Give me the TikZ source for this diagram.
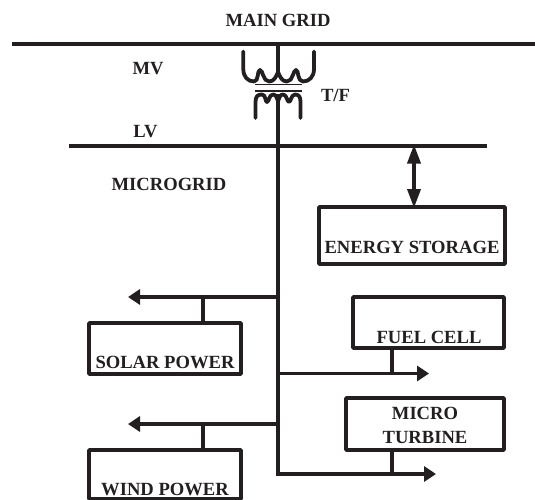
\documentclass[tikz,border=0pt]{standalone}
\usepackage{fontspec}
\setmainfont{Liberation Serif}
\usetikzlibrary{arrows.meta,positioning}
\definecolor{ink}{HTML}{231F20}
\tikzset{
  x=1pt,y=-1pt,
  bus/.style={draw=ink,line width=4pt},
  wire/.style={draw=ink,line width=3.6pt},
  flow/.style={wire,-{Triangle[length=12pt,width=15pt]}},
  both/.style={wire,{Triangle[length=19pt,width=13pt]}-{Triangle[length=19pt,width=13pt]},shorten <=-1pt,shorten >=-1pt},
  coil/.style={draw=ink,line width=3.8pt,line cap=round,line join=round},
  core/.style={draw=ink,line width=1.9pt},
  block/.style={draw=ink,line width=3.6pt,rounded corners=0.6pt,inner sep=0pt,outer sep=0pt,anchor=north west},
  labb/.style={font=\bfseries\fontsize{18.6}{20}\selectfont,text=ink,inner sep=0pt,align=center}
}
\begin{document}
\begin{tikzpicture}
\useasboundingbox (0,0) rectangle (535,500);
% named points
\coordinate (mainL) at (12,44);
\coordinate (mainR) at (535,44);
\coordinate (mainT) at (278,44);
\coordinate (lvL) at (69,145.5);
\coordinate (lvR) at (487,145.5);
\coordinate (lvT) at (278,145.5);
\coordinate (tfB) at (278,94);
\coordinate (tfT) at (278,72);
\coordinate (spine) at (278,474);
\coordinate (solJ) at (278,297);
\coordinate (solA) at (128,297);
\coordinate (solS) at (203,297);
\coordinate (winJ) at (278,424);
\coordinate (winA) at (128,424);
\coordinate (winS) at (203,424);
\coordinate (fuelJ) at (278,373.5);
\coordinate (fuelA) at (429,373.5);
\coordinate (fuelS) at (392,373.5);
\coordinate (turbA) at (436,474);
\coordinate (turbS) at (392,474);
\coordinate (storeT) at (414,145.5);
% blocks
\node[block,minimum width=152pt,minimum height=51pt] (solar) at (89,323) {};
\node[block,minimum width=152pt,minimum height=49pt] (wind) at (89,450) {};
\node[block,minimum width=151pt,minimum height=51pt] (fuel) at (353,297) {};
\node[block,minimum width=158pt,minimum height=52pt] (turb) at (346,398) {};
\node[block,minimum width=186pt,minimum height=57pt] (store) at (319,207) {};
% block labels
\node[labb] (tsolar) at (165,362) {SOLAR POWER};
\node[labb] (twind) at (165,489) {WIND POWER};
\node[labb] (tfuel) at (429,337) {FUEL CELL};
\node[labb] (tmicro) at (425,413) {MICRO};
\node[labb] (tturb) at (425,437) {TURBINE};
\node[labb] (tstore) at (412,247) {ENERGY STORAGE};
% free labels
\node[labb] (tgrid) at (278,20) {MAIN GRID};
\node[labb] (tmv) at (148,69) {MV};
\node[labb] (tlv) at (145.5,132) {LV};
\node[labb] (ttf) at (335.5,95) {T/F};
\node[labb] (tmg) at (169,184) {MICROGRID};
% buses
\draw[bus] (mainL) -- (mainR);
\draw[bus] (lvL) -- (lvR);
\draw[wire] (mainT) -- (tfT);
\draw[wire] (tfB) -- (lvT);
\draw[wire,line join=miter] (lvT) -- (spine) -- (turbS);
\draw[flow] (turbS) -- (turbA);
\draw[flow] (solJ) -- (solA);
\draw[flow] (winJ) -- (winA);
\draw[flow] (fuelJ) -- (fuelA);
\draw[wire] (solS) -- (solar.north -| solS);
\draw[wire] (winS) -- (wind.north -| winS);
\draw[wire] (fuelS) -- (fuel.south -| fuelS);
\draw[wire] (turbS) -- (turb.south -| turbS);
\draw[both] (storeT) -- (store.north -| storeT);
% transformer: upper winding
\draw[coil] (243.3,51.5) -- (243.3,69)
  .. controls (243.3,77) and (248,81.5) .. (254,81.5)
  .. controls (259,81.5) and (257,70) .. (260,70)
  .. controls (263,70) and (263,81.5) .. (269,81.5)
  .. controls (274,81.5) and (276,77) .. (278,72)
  .. controls (280,77) and (282,81.5) .. (287,81.5)
  .. controls (293,81.5) and (293,70) .. (296,70)
  .. controls (299,70) and (297,81.5) .. (303,81.5)
  .. controls (309,81.5) and (314,77) .. (314,69)
  -- (314,51.5);
\draw[core] (255,84.5) -- (302,84.5);
\draw[core] (255,91) -- (302,91);
% transformer: lower winding
\draw[coil] (255.5,118) -- (255.5,102)
  .. controls (255.5,96) and (258,94.5) .. (262,94.5)
  .. controls (266,94.5) and (265,102) .. (267,102)
  .. controls (269,102) and (269,94.5) .. (273,94.5)
  .. controls (276,94.5) and (277,98) .. (278,101)
  .. controls (279,98) and (280,94.5) .. (283,94.5)
  .. controls (287,94.5) and (287,102) .. (289,102)
  .. controls (291,102) and (291,94.5) .. (295,94.5)
  .. controls (299,94.5) and (300.5,97) .. (300.5,102)
  -- (300.5,118);
\end{tikzpicture}
\end{document}
